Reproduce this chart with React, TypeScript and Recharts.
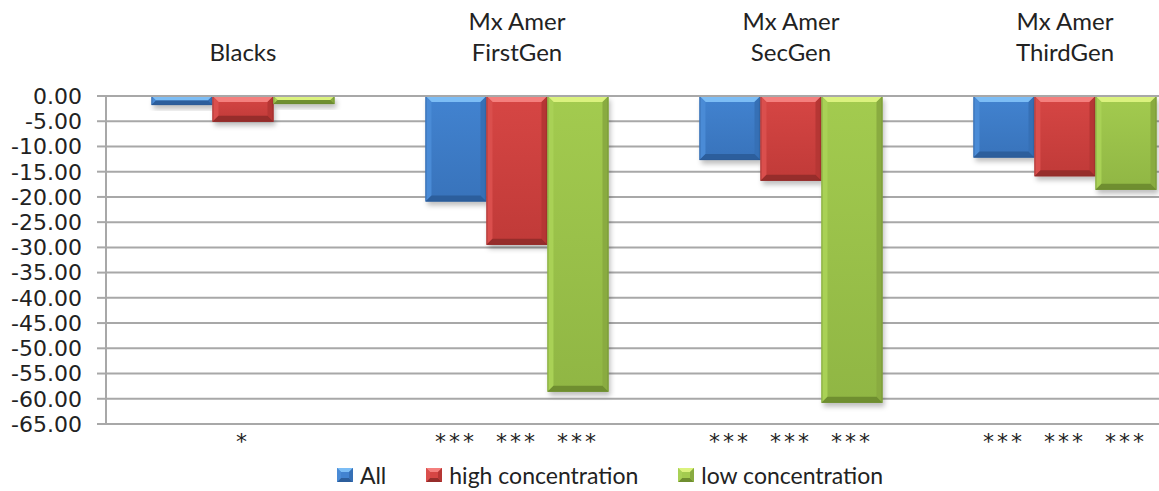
import React from "react";
import {
  BarChart,
  Bar,
  XAxis,
  YAxis,
  CartesianGrid,
  Legend,
  LabelList,
} from "recharts";

// groups along the top axis ("\n" splits the two label lines)
const categories = [
  "Blacks",
  "Mx Amer\nFirstGen",
  "Mx Amer\nSecGen",
  "Mx Amer\nThirdGen",
];

const allValues = [-1.8, -20.9, -12.7, -12.2];
const highValues = [-5.1, -29.5, -16.8, -15.9];
const lowValues = [-1.6, -58.6, -60.8, -18.6];

// significance stars printed under each bar
const allStars = ["", "***", "***", "***"];
const highStars = ["*", "***", "***", "***"];
const lowStars = ["", "***", "***", "***"];

const yTicks = [0, -5, -10, -15, -20, -25, -30, -35, -40, -45, -50, -55, -60, -65];

const seriesNames = ["All", "high concentration", "low concentration"];

const data = categories.map((name, i) => ({
  name,
  all: allValues[i],
  high: highValues[i],
  low: lowValues[i],
  allStars: allStars[i],
  highStars: highStars[i],
  lowStars: lowStars[i],
}));

type Palette = {
  face: string;
  faceDark: string;
  top: string;
  left: string;
  right: string;
  bottom: string;
  edge: string;
};

const PALETTES: Record<string, Palette> = {
  all: {
    face: "#4283d0",
    faceDark: "#3873bb",
    top: "#7cbdf5",
    left: "#4a8bd6",
    right: "#3670b6",
    bottom: "#2c5e9c",
    edge: "#2c5a94",
  },
  high: {
    face: "#d64644",
    faceDark: "#c03a38",
    top: "#f47f7d",
    left: "#da4f4d",
    right: "#b63634",
    bottom: "#962d2b",
    edge: "#8c2b29",
  },
  low: {
    face: "#a3cb4f",
    faceDark: "#90b644",
    top: "#dbf27e",
    left: "#a9d156",
    right: "#89ab40",
    bottom: "#6f8e30",
    edge: "#6a8a30",
  },
};

const GRID = "#a8a8a8";
const CHART_W = 1202;
const CHART_H = 491;
const TOP_AXIS_H = 96;
const BOTTOM_MARGIN = 67;
const PLOT_BOTTOM = CHART_H - BOTTOM_MARGIN;

function bevelBar(key: string) {
  const p = PALETTES[key];
  return (props: any) => {
    const { x, y, width, height } = props;
    const top = Math.min(y, y + height);
    const h = Math.abs(height);
    const w = width;
    if (!h || !w) return <g />;
    const b = Math.min(6, h / 2, w / 2);
    const gid = `face-${key}`;
    return (
      <g>
        <defs>
          <linearGradient id={gid} x1="0" y1="0" x2="0" y2="1">
            <stop offset="0%" stopColor={p.face} />
            <stop offset="100%" stopColor={p.faceDark} />
          </linearGradient>
          <filter id="barShadow" x="-20%" y="-20%" width="140%" height="140%">
            <feGaussianBlur stdDeviation="2.5" />
          </filter>
        </defs>
        <rect
          x={x + 2}
          y={top + 4}
          width={w}
          height={h}
          fill="rgba(0,0,0,0.25)"
          filter="url(#barShadow)"
        />
        <rect x={x} y={top} width={w} height={h} fill={`url(#${gid})`} />
        <polygon
          points={`${x},${top} ${x + w},${top} ${x + w - b},${top + b} ${x + b},${top + b}`}
          fill={p.top}
        />
        <polygon
          points={`${x},${top} ${x + b},${top + b} ${x + b},${top + h - b} ${x},${top + h}`}
          fill={p.left}
        />
        <polygon
          points={`${x + w},${top} ${x + w},${top + h} ${x + w - b},${top + h - b} ${x + w - b},${top + b}`}
          fill={p.right}
        />
        <polygon
          points={`${x},${top + h} ${x + w},${top + h} ${x + w - b},${top + h - b} ${x + b},${top + h - b}`}
          fill={p.bottom}
        />
        <rect
          x={x + 0.5}
          y={top + 0.5}
          width={w - 1}
          height={h - 1}
          fill="none"
          stroke={p.edge}
          strokeWidth={1}
          strokeOpacity={0.55}
        />
      </g>
    );
  };
}

const CategoryTick = (props: any) => {
  const { x, payload } = props;
  const lines = String(payload.value).split("\n");
  const lastBaseline = 61;
  return (
    <g>
      {lines.map((line, i) => (
        <text
          key={i}
          x={x}
          y={lastBaseline - (lines.length - 1 - i) * 31}
          textAnchor="middle"
          fontFamily="Lato, 'Open Sans', sans-serif"
          fontSize={24}
          fill="#222"
        >
          {line}
        </text>
      ))}
    </g>
  );
};

const StarLabel = (props: any) => {
  const { x, width, value } = props;
  if (!value) return null;
  return (
    <text
      x={x + width / 2}
      y={PLOT_BOTTOM + 25}
      textAnchor="middle"
      fontFamily="'DejaVu Sans', sans-serif"
      fontSize={22}
      letterSpacing={3}
      fill="#222"
    >
      {value}
    </text>
  );
};

const LegendIcon = ({ k }: { k: string }) => {
  const p = PALETTES[k];
  return (
    <svg width={16} height={14} style={{ marginRight: 7 }}>
      <rect x={0} y={0} width={16} height={14} fill={p.face} />
      <polygon points="0,0 16,0 12,4 4,4" fill={p.top} />
      <polygon points="0,14 16,14 12,10 4,10" fill={p.bottom} />
      <polygon points="0,0 4,4 4,10 0,14" fill={p.left} />
      <polygon points="16,0 16,14 12,10 12,4" fill={p.right} />
    </svg>
  );
};

const LegendContent = () => {
  const keys = ["all", "high", "low"];
  return (
    <div
      style={{
        display: "flex",
        justifyContent: "center",
        alignItems: "center",
        gap: 40,
        fontFamily: "Lato, 'Open Sans', sans-serif",
        fontSize: 23,
        color: "#222",
      }}
    >
      {keys.map((k, i) => (
        <div key={k} style={{ display: "flex", alignItems: "center" }}>
          <LegendIcon k={k} />
          <span>{seriesNames[i]}</span>
        </div>
      ))}
    </div>
  );
};

export default function App() {
  return (
    <div
      style={{
        position: "absolute",
        left: 0,
        top: 0,
        width: 1159,
        height: CHART_H,
        overflow: "hidden",
        background: "#fff",
      }}
    >
      <BarChart
        width={CHART_W}
        height={CHART_H}
        data={data}
        margin={{ top: 0, right: 0, bottom: BOTTOM_MARGIN, left: 0 }}
        barGap={0}
        barCategoryGap="16.6%"
      >
        <CartesianGrid vertical={false} stroke={GRID} strokeWidth={2} />
        <XAxis
          dataKey="name"
          orientation="top"
          height={TOP_AXIS_H}
          axisLine={{ stroke: GRID, strokeWidth: 2 }}
          tickLine={false}
          tick={<CategoryTick />}
          interval={0}
        />
        <YAxis
          width={106}
          domain={[-65, 0]}
          ticks={yTicks}
          interval={0}
          tickFormatter={(v: number) => v.toFixed(2)}
          axisLine={{ stroke: GRID, strokeWidth: 2 }}
          tickLine={{ stroke: GRID, strokeWidth: 2 }}
          tickSize={9}
          tickMargin={15}
          tick={{
            fontFamily: "'DejaVu Sans', sans-serif",
            fontSize: 22,
            fill: "#222",
          }}
        />
        <Legend
          verticalAlign="middle"
          align="center"
          layout="horizontal"
          wrapperStyle={{ top: 461, left: 0, width: 1220 }}
          content={<LegendContent />}
        />
        <Bar dataKey="all" name={seriesNames[0]} isAnimationActive={false} shape={bevelBar("all")}>
          <LabelList dataKey="allStars" content={<StarLabel />} />
        </Bar>
        <Bar dataKey="high" name={seriesNames[1]} isAnimationActive={false} shape={bevelBar("high")}>
          <LabelList dataKey="highStars" content={<StarLabel />} />
        </Bar>
        <Bar dataKey="low" name={seriesNames[2]} isAnimationActive={false} shape={bevelBar("low")}>
          <LabelList dataKey="lowStars" content={<StarLabel />} />
        </Bar>
      </BarChart>
    </div>
  );
}
